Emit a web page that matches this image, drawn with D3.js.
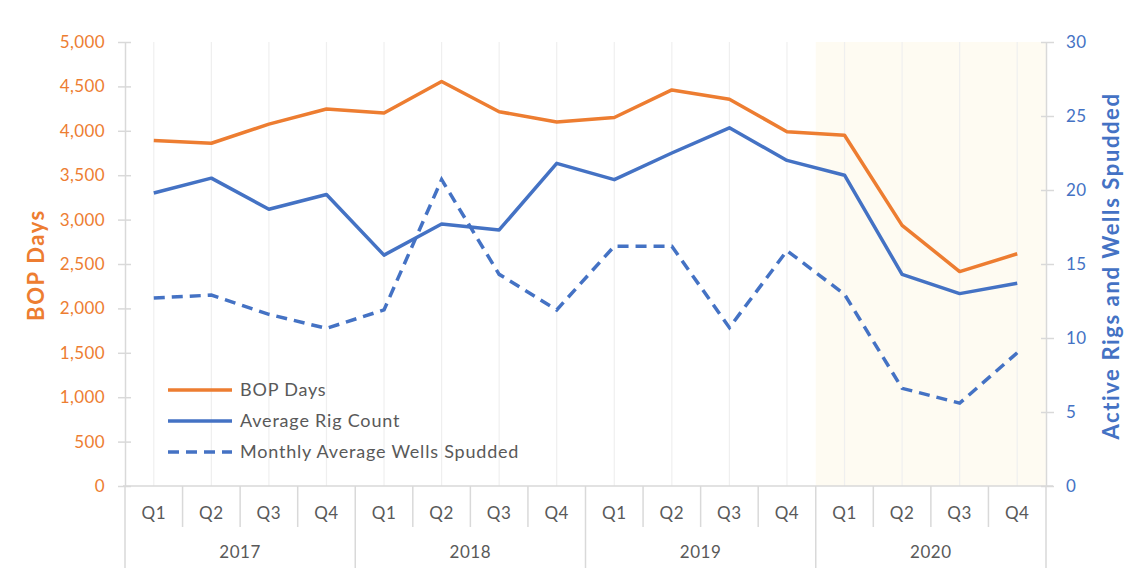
<!DOCTYPE html>
<html>
<head>
<meta charset="utf-8">
<script src="https://cdn.jsdelivr.net/npm/d3@7"></script>
<style>
  html, body { margin: 0; padding: 0; background: #fff; }
  svg text { font-family: Lato, "Open Sans", sans-serif; }
</style>
</head>
<body>
<div id="chart"></div>
<script>
// Chart data
const years = ["2017", "2018", "2019", "2020"];
const quarters = ["Q1", "Q2", "Q3", "Q4"];
const bopDays = [3890, 3860, 4075, 4245, 4200, 4555, 4215, 4100, 4150, 4460, 4355, 3990, 3950, 2935, 2415, 2615];
const rigCount = [19.8, 20.8, 18.7, 19.7, 15.6, 17.7, 17.3, 21.8, 20.7, 22.5, 24.2, 22.0, 21.0, 14.3, 13.0, 13.7];
const wellsSpudded = [12.7, 12.9, 11.6, 10.65, 11.9, 20.7, 14.3, 11.9, 16.2, 16.2, 10.7, 15.9, 12.95, 6.6, 5.6, 9.0];
const leftTicks = [0, 500, 1000, 1500, 2000, 2500, 3000, 3500, 4000, 4500, 5000];
const rightTicks = [0, 5, 10, 15, 20, 25, 30];
const highlightYear = "2020";
const legendItems = [
    { label: "BOP Days", color: "#ED7D31", dash: null },
    { label: "Average Rig Count", color: "#4472C4", dash: null },
    { label: "Monthly Average Wells Spudded", color: "#4472C4", dash: "11,7" }
];

const width = 1128, height = 575;
const margin = { top: 42, right: 82, bottom: 89, left: 125 };
const plotBottom = height - margin.bottom;
const plotRight = width - margin.right;

const orange = "#ED7D31";
const blue = "#4472C4";
const textGray = "#595959";
const axisGray = "#d9d9d9";

// one key per quarter
const keys = [];
years.forEach(y => quarters.forEach(q => keys.push(y + "-" + q)));

const x = d3.scaleBand().domain(keys).range([margin.left, plotRight]).padding(0);
const cx = i => x(keys[i]) + x.bandwidth() / 2;
const yLeft = d3.scaleLinear().domain([0, 5000]).range([plotBottom, margin.top]);
const yRight = d3.scaleLinear().domain([0, 30]).range([plotBottom, margin.top]);

const svg = d3.select("#chart").append("svg")
    .attr("width", width)
    .attr("height", height)
    .style("display", "block");

// Shaded 2020 region
const hlStart = x(highlightYear + "-Q1");
svg.append("rect")
    .attr("x", hlStart)
    .attr("y", margin.top)
    .attr("width", plotRight - hlStart)
    .attr("height", plotBottom - margin.top)
    .attr("fill", "#fefbf2");

// Vertical gridlines at category centers
svg.append("g")
    .selectAll("line")
    .data(keys)
    .join("line")
    .attr("x1", (d, i) => cx(i))
    .attr("x2", (d, i) => cx(i))
    .attr("y1", margin.top)
    .attr("y2", plotBottom)
    .attr("stroke", "#efefef")
    .attr("stroke-width", 1.2);

// Left axis
const leftAxis = svg.append("g")
    .attr("transform", `translate(${margin.left},0)`)
    .call(d3.axisLeft(yLeft).tickValues(leftTicks).tickFormat(d3.format(",")).tickSize(0).tickPadding(20));
leftAxis.select(".domain").attr("stroke", axisGray).attr("stroke-width", 1.5);
leftAxis.selectAll("text").attr("fill", orange).style("font-size", "17px").style("letter-spacing", "0.4px");
leftAxis.selectAll(".tick").append("line")
    .attr("x1", -7).attr("x2", 6)
    .attr("stroke", axisGray).attr("stroke-width", 1.5);

// Right axis
const rightAxis = svg.append("g")
    .attr("transform", `translate(${plotRight},0)`)
    .call(d3.axisRight(yRight).tickValues(rightTicks).tickSize(0).tickPadding(20));
rightAxis.select(".domain").attr("stroke", axisGray).attr("stroke-width", 1.5);
rightAxis.selectAll("text").attr("fill", blue).style("font-size", "17px").style("letter-spacing", "0.4px");
rightAxis.selectAll(".tick").append("line")
    .attr("x1", -5).attr("x2", 8)
    .attr("stroke", axisGray).attr("stroke-width", 1.5);

// Axis titles
svg.append("text")
    .attr("transform", `translate(44,${(margin.top + plotBottom) / 2 + 1}) rotate(-90)`)
    .attr("text-anchor", "middle")
    .attr("fill", orange)
    .style("font-size", "22px")
    .style("font-weight", "bold")
    .style("letter-spacing", "1.6px")
    .text("BOP Days");

svg.append("text")
    .attr("transform", `translate(1119,${(margin.top + plotBottom) / 2 + 2}) rotate(-90)`)
    .attr("text-anchor", "middle")
    .attr("fill", blue)
    .style("font-size", "22px")
    .style("font-weight", "bold")
    .style("letter-spacing", "1.6px")
    .text("Active Rigs and Wells Spudded");

// Category (two-level) axis
const cat = svg.append("g");
cat.append("line")
    .attr("x1", margin.left - 2).attr("x2", plotRight + 7)
    .attr("y1", plotBottom).attr("y2", plotBottom)
    .attr("stroke", axisGray).attr("stroke-width", 1.5);

// separators: long at year boundaries, short between quarters
const bounds = d3.range(keys.length + 1);
cat.selectAll("line.sep")
    .data(bounds)
    .join("line")
    .attr("class", "sep")
    .attr("x1", i => i < keys.length ? x(keys[i]) : plotRight)
    .attr("x2", i => i < keys.length ? x(keys[i]) : plotRight)
    .attr("y1", plotBottom)
    .attr("y2", i => i % quarters.length === 0 ? 568 : 527)
    .attr("stroke", axisGray)
    .attr("stroke-width", 1.5);

cat.selectAll("text.q")
    .data(keys)
    .join("text")
    .attr("class", "q")
    .attr("x", (d, i) => cx(i))
    .attr("y", 519)
    .attr("text-anchor", "middle")
    .attr("fill", textGray)
    .style("font-size", "17px")
    .style("letter-spacing", "0.6px")
    .text(d => d.split("-")[1]);

cat.selectAll("text.yr")
    .data(years)
    .join("text")
    .attr("class", "yr")
    .attr("x", d => (x(d + "-Q1") + x(d + "-Q4") + x.bandwidth()) / 2)
    .attr("y", 558)
    .attr("text-anchor", "middle")
    .attr("fill", textGray)
    .style("font-size", "17px")
    .style("letter-spacing", "0.6px")
    .text(d => d);

// Lines
const lineLeft = d3.line().x((d, i) => cx(i)).y(d => yLeft(d));
const lineRight = d3.line().x((d, i) => cx(i)).y(d => yRight(d));

svg.append("path")
    .datum(wellsSpudded)
    .attr("d", lineRight)
    .attr("fill", "none")
    .attr("stroke", blue)
    .attr("stroke-width", 3.5)
    .attr("stroke-dasharray", "11,7");

svg.append("path")
    .datum(rigCount)
    .attr("d", lineRight)
    .attr("fill", "none")
    .attr("stroke", blue)
    .attr("stroke-width", 3.5)
    .attr("stroke-linejoin", "round");

svg.append("path")
    .datum(bopDays)
    .attr("d", lineLeft)
    .attr("fill", "none")
    .attr("stroke", orange)
    .attr("stroke-width", 3.5)
    .attr("stroke-linejoin", "round");

// Legend
const legend = svg.append("g").attr("transform", "translate(168,390)");
const item = legend.selectAll("g")
    .data(legendItems)
    .join("g")
    .attr("transform", (d, i) => `translate(0,${i * 31})`);
item.append("line")
    .attr("x1", 0).attr("x2", 64)
    .attr("stroke", d => d.color)
    .attr("stroke-width", 3.5)
    .attr("stroke-dasharray", d => d.dash);
item.append("text")
    .attr("x", 72)
    .attr("dy", "0.35em")
    .attr("fill", textGray)
    .style("font-size", "18px")
    .style("letter-spacing", "0.8px")
    .text(d => d.label);
</script>
</body>
</html>
